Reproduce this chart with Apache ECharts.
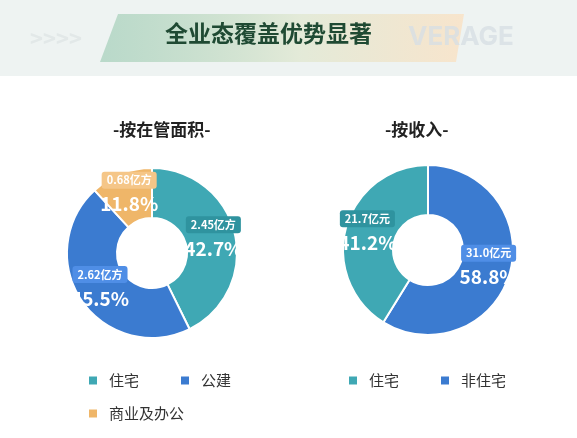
<!DOCTYPE html>
<html><head><meta charset="utf-8">
<script src="https://cdn.jsdelivr.net/npm/echarts@6/dist/echarts.min.js"></script>
<style>html,body{margin:0;background:#fff}#c{width:577px;height:438px}</style>
</head><body><div id="c"></div>
<script>
const areaNames = ['住宅', '公建', '商业及办公'];
const areaValues = ['2.45亿方', '2.62亿方', '0.68亿方'];
const areaPct = [42.7, 45.5, 11.8];
const incomeNames = ['非住宅', '住宅'];
const incomeValues = ['31.0亿元', '21.7亿元'];
const incomePct = [58.8, 41.2];
const colors = { '住宅': '#3fa8b4', '公建': '#3b7bd0', '商业及办公': '#efb669', '非住宅': '#3b7bd0' };
const boxColors = { '住宅': '#2f939f', '公建': '#4f8ee6', '商业及办公': '#f5c688', '非住宅': '#4f8ee6' };
const font = 'Noto Sans CJK SC';

const chart = echarts.init(document.getElementById('c'));

function pieSeries(names, vals, pct, center) {
  return {
    type: 'pie', radius: [35, 85], center: center, startAngle: 90,
    clockwise: true, avoidLabelOverlap: false,
    itemStyle: { borderColor: '#fff', borderWidth: 2 },
    label: {
      position: 'inside', fontFamily: font, overflow: 'none', width: 120,
      formatter: p => '{v' + p.dataIndex + '|' + vals[p.dataIndex] + '}\n{p|' + p.value + '%}',
      rich: Object.assign({
        p: { fontSize: 19, fontWeight: 'bold', color: '#fff', lineHeight: 28 }
      }, ...names.map((n, i) => ({ ['v' + i]: { fontSize: 11, fontWeight: 'bold', color: '#fff',
        padding: [3, 5], borderRadius: 3, backgroundColor: boxColors[n], lineHeight: 20 } })))
    },
    labelLine: { show: false },
    data: names.map((n, i) => ({ name: n, value: pct[i], itemStyle: { color: colors[n] } }))
  };
}

const legText = { fontSize: 15, color: '#333', fontFamily: font, padding: [0, 0, 0, 6] };
chart.setOption({
  graphic: [
    { type: 'rect', shape: { x: 0, y: 0, width: 577, height: 76 }, style: { fill: '#eef3f2' } },
    { type: 'text', left: 30, top: 28, style: { text: '>>>>', fontSize: 22, fontWeight: 'bold', fill: '#e2e8e8', fontFamily: font } },
    { type: 'polygon', z: 1, shape: { points: [[118, 14], [464, 14], [456, 62], [100, 62]] },
      style: { fill: new echarts.graphic.LinearGradient(0, 0, 1, 0, [
        { offset: 0, color: 'rgba(150,200,175,0.6)' }, { offset: 0.55, color: 'rgba(225,232,210,0.8)' },
        { offset: 1, color: 'rgba(250,225,195,0.8)' }]) } },
    { type: 'text', z: 2, left: 408, top: 24, style: { text: 'VERAGE', fontSize: 26, fontWeight: 'bold', fill: 'rgba(215,222,228,0.8)', fontFamily: 'Inter' } },
    { type: 'text', z: 3, left: 165, top: 22, style: { text: '全业态覆盖优势显著', fontSize: 23, fontWeight: 'bold', fill: '#1f4a33', fontFamily: font } },
    { type: 'text', left: 113, top: 121, style: { text: '-按在管面积-', fontSize: 17, fontWeight: 'bold', fill: '#222', fontFamily: font } },
    { type: 'text', left: 385, top: 121, style: { text: '-按收入-', fontSize: 17, fontWeight: 'bold', fill: '#222', fontFamily: font } }
  ],
  legend: [
    { left: 82, top: 368, itemWidth: 10, itemHeight: 10, itemGap: 40, icon: 'rect',
      data: ['住宅', '公建'].map(n => ({ name: n, itemStyle: { color: colors[n] } })), textStyle: legText },
    { left: 82, top: 401, itemWidth: 10, itemHeight: 10, icon: 'rect',
      data: ['商业及办公'].map(n => ({ name: n, itemStyle: { color: colors[n] } })), textStyle: legText },
    { left: 342, top: 368, itemWidth: 10, itemHeight: 10, itemGap: 40, icon: 'rect',
      data: ['住宅', '非住宅'].map(n => ({ name: n, itemStyle: { color: colors[n] } })), textStyle: legText }
  ],
  series: [
    pieSeries(areaNames, areaValues, areaPct, [152, 253]),
    pieSeries(incomeNames, incomeValues, incomePct, [428, 250])
  ]
});
</script></body></html>
